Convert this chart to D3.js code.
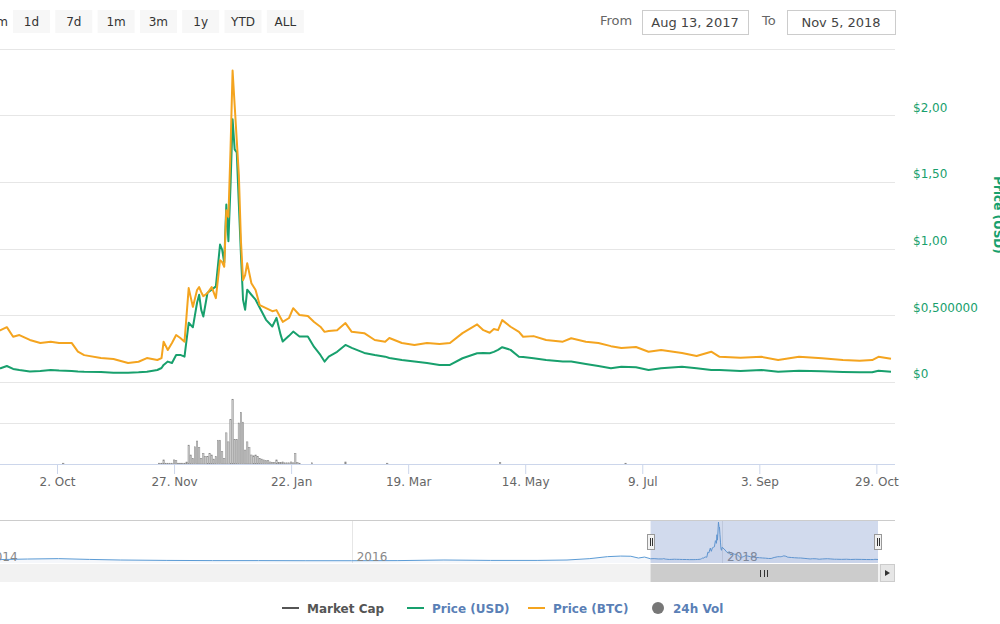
<!DOCTYPE html>
<html>
<head>
<meta charset="utf-8">
<script src="https://cdn.jsdelivr.net/npm/d3@7"></script>
<style>
  body { margin: 0; background: #fff; }
  svg { display: block; font-family: "DejaVu Sans", sans-serif; }
</style>
</head>
<body>
<svg id="chart" width="1000" height="624"></svg>
<script>
// ---- data ----
const dates = [
  "2017-08-13","2017-08-20","2017-08-28","2017-09-05","2017-09-08","2017-09-11","2017-09-14","2017-09-19","2017-09-24","2017-09-29",
  "2017-10-03","2017-10-09","2017-10-12","2017-10-15","2017-10-23","2017-10-29","2017-11-05","2017-11-10","2017-11-14","2017-11-19",
  "2017-11-21","2017-11-22","2017-11-24","2017-11-26","2017-11-28","2017-11-30","2017-12-02","2017-12-04","2017-12-06","2017-12-08",
  "2017-12-09","2017-12-10","2017-12-11","2017-12-13","2017-12-15","2017-12-17","2017-12-19","2017-12-20","2017-12-21","2017-12-22",
  "2017-12-23","2017-12-24","2017-12-25","2017-12-26","2017-12-27","2017-12-28","2017-12-29","2017-12-30","2017-12-31","2018-01-01",
  "2018-01-03","2018-01-05","2018-01-07","2018-01-10","2018-01-13","2018-01-15","2018-01-17","2018-01-18","2018-01-21","2018-01-23",
  "2018-01-26","2018-01-30","2018-02-02","2018-02-05","2018-02-07","2018-02-09","2018-02-13","2018-02-17","2018-02-20","2018-02-26",
  "2018-03-03","2018-03-08","2018-03-10","2018-03-16","2018-03-22","2018-03-28","2018-04-03","2018-04-08","2018-04-14","2018-04-21",
  "2018-04-24","2018-04-27","2018-04-29","2018-05-01","2018-05-03","2018-05-07","2018-05-11","2018-05-13","2018-05-18","2018-05-24",
  "2018-06-01","2018-06-05","2018-06-12","2018-06-18","2018-06-24","2018-06-29","2018-07-06","2018-07-12","2018-07-18","2018-07-28",
  "2018-08-04","2018-08-11","2018-08-15","2018-08-25","2018-09-04","2018-09-12","2018-09-22","2018-10-03","2018-10-13","2018-10-21",
  "2018-10-27","2018-10-30","2018-11-05"
];

const usdPrice = [
  0.113,0.120,0.105,0.103,0.120,0.098,0.090,0.079,0.083,0.090,
  0.086,0.083,0.079,0.077,0.075,0.070,0.070,0.073,0.077,0.090,
  0.105,0.128,0.153,0.143,0.203,0.203,0.190,0.444,0.410,0.594,
  0.654,0.541,0.491,0.669,0.692,0.717,1.030,0.992,0.895,1.331,
  1.055,1.468,1.970,1.744,1.720,1.330,0.955,0.617,0.541,0.692,
  0.654,0.617,0.556,0.466,0.416,0.481,0.353,0.303,0.346,0.378,
  0.341,0.341,0.263,0.203,0.153,0.190,0.226,0.278,0.256,0.218,
  0.203,0.190,0.180,0.165,0.153,0.143,0.128,0.128,0.178,0.216,
  0.218,0.216,0.226,0.241,0.261,0.241,0.190,0.188,0.178,0.165,
  0.153,0.153,0.135,0.120,0.103,0.115,0.111,0.090,0.103,0.115,
  0.103,0.090,0.090,0.083,0.090,0.077,0.085,0.080,0.075,0.073,
  0.073,0.085,0.077
];

// price in micro-BTC
const btcPrice = [
  25.3,26.2,22.9,24.3,25.7,21.2,22.0,19.7,18.3,18.9,
  18.3,18.3,14.2,12.6,11.2,10.8,8.9,9.5,11.2,10.3,
  11.2,18.9,15.0,18.3,22.0,20.6,18.9,44.0,35.2,43.1,
  44.5,42.1,40.2,41.7,44.5,39.3,57.1,56.2,54.0,80.5,
  77.4,108.6,146.0,129.6,113.3,97.0,66.0,47.7,50.1,55.7,
  46.3,43.1,36.0,34.6,33.2,33.7,30.0,28.2,30.0,34.6,
  31.4,30.9,28.1,25.9,23.5,23.9,24.3,27.6,23.5,22.9,
  19.7,18.9,20.6,18.3,17.3,18.3,17.8,18.3,22.9,27.0,
  24.3,23.1,24.8,24.3,29.0,25.9,23.5,21.2,21.5,19.7,
  18.9,20.5,18.9,18.3,16.8,15.9,16.4,14.2,15.0,13.6,
  12.2,14.2,11.8,11.4,11.8,10.3,11.8,11.1,10.3,10.0,
  10.3,11.8,10.9
];

// 24h volume (million USD), daily from volStart
const volStart = "2017-11-20";
const volDaily = [
  1,1,5,1,1,1,1,5,4,1,1,1,1,
  2.4,23,11,7,21,28,20,7,13,9,9,13,11,6,9,29,29,15,7,38,27,54,79,30,30,50,63,51,17,
  27,20,11,10,11,9,7,6,5,4,4,2.5,2,2,5,2,2,2.5,1.5,1.5,1.5,2.5,1.5,13,2,1
];
const volExtraDates = ["2017-10-05","2018-02-01","2018-02-17","2018-03-09","2018-05-02","2018-07-01"];
const volExtraValues = [1, 1.5, 2.5, 1, 2, 1];

// navigator history before the selected range
const navDates = [
  "2013-10-01","2013-12-01","2014-02-01","2014-04-01","2014-06-01","2014-08-01","2014-10-01","2015-01-01",
  "2015-04-01","2015-07-01","2015-10-01","2016-01-01","2016-04-01","2016-07-01","2016-10-01","2017-01-01",
  "2017-03-01","2017-04-15","2017-05-20","2017-06-15","2017-07-05","2017-07-20","2017-08-01"
];
const navPrice = [
  0.05,0.08,0.07,0.10,0.12,0.08,0.05,0.03,
  0.02,0.02,0.015,0.015,0.02,0.05,0.03,0.03,
  0.05,0.12,0.22,0.25,0.24,0.15,0.20
];

const xTickDates = ["2017-10-02","2017-11-27","2018-01-22","2018-03-19","2018-05-14","2018-07-09","2018-09-03","2018-10-29"];
const usdTicks = [0, 0.5, 1, 1.5, 2];
const usdTickLabels = ["$0", "$0,500000", "$1,00", "$1,50", "$2,00"];
const navYears = ["2014-01-01", "2016-01-01", "2018-01-01"];
const rangeButtons = ["1d", "7d", "1m", "3m", "1y", "YTD", "ALL"];
const legendNames = ["Market Cap", "Price (USD)", "Price (BTC)", "24h Vol"];

// ---- colours ----
const GREEN = "#18a06d";
const ORANGE = "#f4a41f";
const GRID = "#e6e6e6";

const parse = d3.timeParse("%Y-%m-%d");
const svg = d3.select("#chart");

const usd = dates.map((d, i) => ({date: parse(d), v: usdPrice[i]}));
const btc = dates.map((d, i) => ({date: parse(d), v: btcPrice[i]}));
const vol = volDaily.map((v, i) => ({date: d3.timeDay.offset(parse(volStart), i), v: v}))
  .concat(volExtraDates.map((d, i) => ({date: parse(d), v: volExtraValues[i]})));

// ---- scales ----
const x = d3.scaleTime()
  .domain([parse("2017-08-13"), parse("2018-11-05")])
  .range([-47.5, 891]);
const yUsd = d3.scaleLinear().domain([0, 2.5]).range([382, 48.5]);
const yBtc = d3.scaleLinear().domain([0, 156.3]).range([382, 48.5]);
const yVol = d3.scaleLinear().domain([0, 100]).range([464, 382]);

// ---- grid ----
svg.append("g").selectAll("line")
  .data(yUsd.ticks(5))
  .enter().append("line")
  .attr("x1", -48).attr("x2", 895)
  .attr("y1", d => Math.round(yUsd(d)) + 0.5)
  .attr("y2", d => Math.round(yUsd(d)) + 0.5)
  .attr("stroke", GRID);

svg.append("g").selectAll("line")
  .data(yVol.ticks(2).slice(1))
  .enter().append("line")
  .attr("x1", -48).attr("x2", 895)
  .attr("y1", d => Math.round(yVol(d)) + 0.5)
  .attr("y2", d => Math.round(yVol(d)) + 0.5)
  .attr("stroke", GRID);

// ---- volume bars ----
svg.append("g").selectAll("rect")
  .data(vol)
  .enter().append("rect")
  .attr("x", d => x(d.date) - 0.7)
  .attr("y", d => yVol(d.v))
  .attr("width", 1.4)
  .attr("height", d => 464 - yVol(d.v))
  .attr("fill", "#cfcfcf")
  .attr("stroke", "#858585")
  .attr("stroke-width", 0.5);

// ---- x axis ----
svg.append("line")
  .attr("x1", -48).attr("x2", 895)
  .attr("y1", 464.5).attr("y2", 464.5)
  .attr("stroke", "#ccd6eb");

const xAxis = svg.append("g")
  .attr("transform", "translate(0,464)")
  .call(d3.axisBottom(x)
    .tickValues(xTickDates.map(parse))
    .tickFormat(d3.timeFormat("%-d. %b"))
    .tickSize(10)
    .tickPadding(3));
xAxis.select(".domain").remove();
xAxis.selectAll("line").attr("stroke", "#ccd6eb");
xAxis.selectAll("text").attr("fill", "#666").attr("font-size", 12)
  .attr("font-family", "DejaVu Sans");

// ---- price lines ----
const usdLine = d3.line().x(d => x(d.date)).y(d => yUsd(d.v));
const btcLine = d3.line().x(d => x(d.date)).y(d => yBtc(d.v));

svg.append("path").datum(usd)
  .attr("d", usdLine)
  .attr("fill", "none").attr("stroke", GREEN)
  .attr("stroke-width", 2).attr("stroke-linejoin", "round");

svg.append("path").datum(btc)
  .attr("d", btcLine)
  .attr("fill", "none").attr("stroke", ORANGE)
  .attr("stroke-width", 2).attr("stroke-linejoin", "round");

// ---- right y axis ----
const yAxis = svg.append("g")
  .attr("transform", "translate(913,-8)")
  .call(d3.axisRight(yUsd)
    .tickValues(usdTicks)
    .tickFormat((d, i) => usdTickLabels[i])
    .tickSize(0)
    .tickPadding(0));
yAxis.select(".domain").remove();
yAxis.selectAll("text").attr("fill", GREEN).attr("font-size", 12)
  .attr("font-family", "DejaVu Sans");

svg.append("text")
  .attr("transform", "translate(994,215) rotate(90)")
  .attr("text-anchor", "middle")
  .attr("font-size", 12).attr("font-weight", "bold")
  .attr("fill", GREEN)
  .text("Price (USD)");

// ---- range selector ----
svg.append("text")
  .attr("x", 8).attr("y", 26)
  .attr("text-anchor", "end")
  .attr("font-size", 12).attr("fill", "#333")
  .text("Zoom");

const btn = svg.append("g").selectAll("g")
  .data(rangeButtons)
  .enter().append("g")
  .attr("transform", (d, i) => "translate(" + (13 + i * 42.3) + ",10)");
btn.append("rect")
  .attr("width", 37).attr("height", 23)
  .attr("fill", "#f7f7f7");
btn.append("text")
  .attr("x", 18.5).attr("y", 16)
  .attr("text-anchor", "middle")
  .attr("font-size", 12).attr("fill", "#333")
  .text(d => d);

svg.append("text").attr("x", 600).attr("y", 25)
  .attr("font-size", 13).attr("fill", "#666").text("From");
svg.append("text").attr("x", 762).attr("y", 25)
  .attr("font-size", 13).attr("fill", "#666").text("To");

const inputs = [
  {x: 642, w: 106, label: d3.timeFormat("%b %-d, %Y")(x.domain()[0])},
  {x: 787, w: 108, label: d3.timeFormat("%b %-d, %Y")(x.domain()[1])}
];
svg.append("g").selectAll("rect")
  .data(inputs)
  .enter().append("rect")
  .attr("x", d => d.x + 0.5).attr("y", 10.5)
  .attr("width", d => d.w).attr("height", 24)
  .attr("fill", "#fff").attr("stroke", "#ccc");
svg.append("g").selectAll("text")
  .data(inputs)
  .enter().append("text")
  .attr("x", d => d.x + d.w / 2).attr("y", 27)
  .attr("text-anchor", "middle")
  .attr("font-size", 13).attr("fill", "#444")
  .text(d => d.label);

// ---- navigator ----
const xNav = d3.scaleTime()
  .domain([parse("2014-01-01"), parse("2018-01-01")])
  .range([-18, 722]);
const yNav = d3.scaleLinear().domain([0, 2]).range([561, 521.5]);
const navData = navDates.map((d, i) => ({date: parse(d), v: navPrice[i]})).concat(usd);

svg.append("line")
  .attr("x1", 0).attr("x2", 895)
  .attr("y1", 520.5).attr("y2", 520.5)
  .attr("stroke", "#ccc");

svg.append("g").selectAll("line")
  .data(navYears.map(parse))
  .enter().append("line")
  .attr("x1", d => Math.round(xNav(d)) + 0.5)
  .attr("x2", d => Math.round(xNav(d)) + 0.5)
  .attr("y1", 521).attr("y2", 563)
  .attr("stroke", GRID);

svg.append("path").datum(navData)
  .attr("d", d3.area().x(d => xNav(d.date)).y0(563).y1(d => yNav(d.v)))
  .attr("fill", "rgba(51,92,173,0.05)");
svg.append("path").datum(navData)
  .attr("d", d3.line().x(d => xNav(d.date)).y(d => yNav(d.v)))
  .attr("fill", "none").attr("stroke", "#5b9bd5").attr("stroke-width", 1);

svg.append("g").selectAll("text")
  .data(navYears.map(parse))
  .enter().append("text")
  .attr("x", d => xNav(d) + 5).attr("y", 561)
  .attr("font-size", 12).attr("fill", "#888")
  .text(d3.timeFormat("%Y"));

const m0 = xNav(x.domain()[0]);
const m1 = xNav(x.domain()[1]);
svg.append("rect")
  .attr("x", m0).attr("y", 521)
  .attr("width", m1 - m0).attr("height", 42)
  .attr("fill", "rgba(102,133,194,0.3)");

const handles = svg.append("g").selectAll("g")
  .data([m0, m1])
  .enter().append("g")
  .attr("transform", d => "translate(" + (Math.round(d) - 4) + ",534)");
handles.append("rect")
  .attr("x", 0.5).attr("y", 0.5)
  .attr("width", 7).attr("height", 15)
  .attr("fill", "#f2f2f2").attr("stroke", "#999");
handles.append("path")
  .attr("d", "M3.5,4V12M5.5,4V12")
  .attr("stroke", "#333").attr("stroke-width", 1);

// scrollbar
svg.append("rect")
  .attr("x", 0).attr("y", 564)
  .attr("width", 880).attr("height", 18)
  .attr("fill", "#f2f2f2");
svg.append("rect")
  .attr("x", m0).attr("y", 564)
  .attr("width", m1 - m0).attr("height", 18)
  .attr("fill", "#cccccc");
const gx = Math.round((m0 + m1) / 2);
svg.append("path")
  .attr("d", "M" + (gx - 3.5) + ",570V577M" + (gx + 0.5) + ",570V577M" + (gx + 3.5) + ",570V577")
  .attr("stroke", "#333").attr("stroke-width", 1);
svg.append("rect")
  .attr("x", 880.5).attr("y", 564.5)
  .attr("width", 14).attr("height", 17)
  .attr("fill", "#e6e6e6").attr("stroke", "#ccc");
svg.append("path")
  .attr("d", "M885,570L890,573L885,576Z")
  .attr("fill", "#333");

// ---- legend ----
const legendX = [282, 407, 528, 652];
const legendColors = ["#555", GREEN, ORANGE, "#777"];
const legendText = ["#555", "#5a7fb6", "#5a7fb6", "#5a7fb6"];
const leg = svg.append("g").selectAll("g")
  .data(legendNames)
  .enter().append("g")
  .attr("transform", (d, i) => "translate(" + legendX[i] + ",608)");
leg.filter((d, i) => i < 3).append("line")
  .attr("x1", 0).attr("x2", 17)
  .attr("stroke", (d, i) => legendColors[i])
  .attr("stroke-width", 2);
leg.filter((d, i) => i === 3).append("circle")
  .attr("cx", 6).attr("cy", 0).attr("r", 6)
  .attr("fill", legendColors[3]);
leg.append("text")
  .attr("x", (d, i) => i === 3 ? 21 : 25)
  .attr("y", 4.5)
  .attr("font-size", 12).attr("font-weight", "bold")
  .attr("fill", (d, i) => legendText[i])
  .text(d => d);
</script>
</body>
</html>
